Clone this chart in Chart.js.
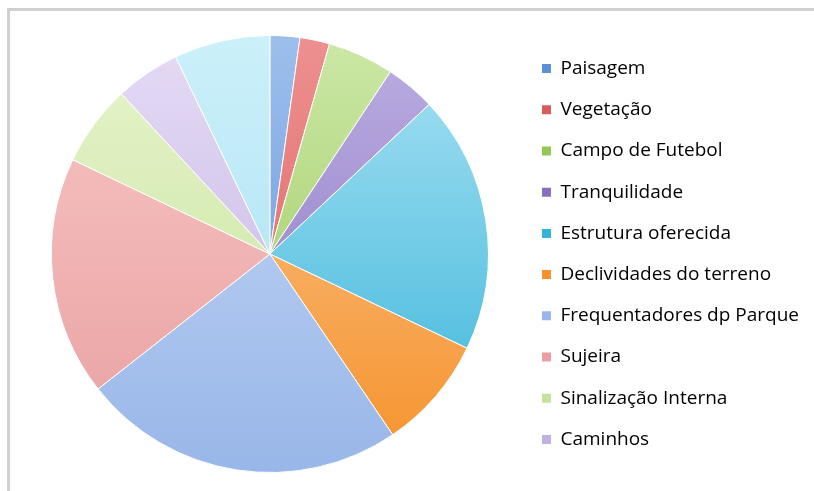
<!DOCTYPE html>
<html>
<head>
<meta charset="utf-8">
<script src="https://cdn.jsdelivr.net/npm/chart.js@4.4.1/dist/chart.umd.min.js"></script>
<style>
  html, body { margin: 0; padding: 0; background: #fff; }
  #frame { position: absolute; left: 7px; top: 8px; width: 820px; height: 520px;
           border-left: 3px solid #d0d0d0; border-top: 3px solid #d0d0d0; }
  #wrap { position: absolute; left: 0; top: 0; width: 814px; height: 491px; }
</style>
</head>
<body>
<div id="frame"></div>
<div id="wrap"><canvas id="myChart" width="814" height="491"></canvas></div>
<script>
// categories (the last slice has no entry in the visible legend)
const labels = ['Paisagem', 'Vegetação', 'Campo de Futebol', 'Tranquilidade', 'Estrutura oferecida',
  'Declividades do terreno', 'Frequentadores dp Parque', 'Sujeira', 'Sinalização Interna', 'Caminhos', 'Outros'];
// share of each answer (%)
const values = [2.2, 2.2, 4.9, 3.7, 19.1, 8.4, 23.9, 17.7, 6.0, 4.8, 7.1];
// light (top) and dark (bottom) tone of each slice
const topColors = ['#9dbfec', '#ee9090', '#cde8a6', '#bcaee2', '#a9e2f4', '#fcc895', '#c9dbf8', '#f9c6c6', '#e6f4cb', '#e5dbf5', '#cbf0fa'];
const bottomColors = ['#5b8fd8', '#d95c5c', '#92c656', '#8670bf', '#36b3d8', '#f5922b', '#98b6e8', '#e8a0a0', '#c5e29b', '#c1b0e1', '#a6dff1'];

const ctx = document.getElementById('myChart');
new Chart(ctx, {
  type: 'pie',
  data: {
    labels: labels,
    datasets: [{
      data: values,
      borderColor: '#ffffff',
      borderWidth: 1,
      backgroundColor: function (c) {
        const area = c.chart.chartArea;
        const i = c.dataIndex;
        if (!area) return bottomColors[i];
        const g = c.chart.ctx.createLinearGradient(0, area.top, 0, area.bottom);
        g.addColorStop(0, topColors[i]);
        g.addColorStop(1, bottomColors[i]);
        return g;
      }
    }]
  },
  options: {
    responsive: false,
    animation: false,
    layout: { padding: { left: 20, right: 5, top: 35, bottom: 18 } },
    plugins: {
      tooltip: { enabled: false },
      legend: {
        position: 'right',
        labels: {
          font: { family: 'Open Sans', size: 19 },
          color: '#383838',
          boxWidth: 9,
          boxHeight: 9,
          padding: 22.2,
          filter: function (item) { return item.index < 10; },
          generateLabels: function (chart) {
            return chart.data.labels.map(function (l, i) {
              return { text: l, fillStyle: bottomColors[i], strokeStyle: bottomColors[i], lineWidth: 0, index: i, hidden: false };
            });
          }
        }
      }
    }
  }
});
</script>
</body>
</html>
